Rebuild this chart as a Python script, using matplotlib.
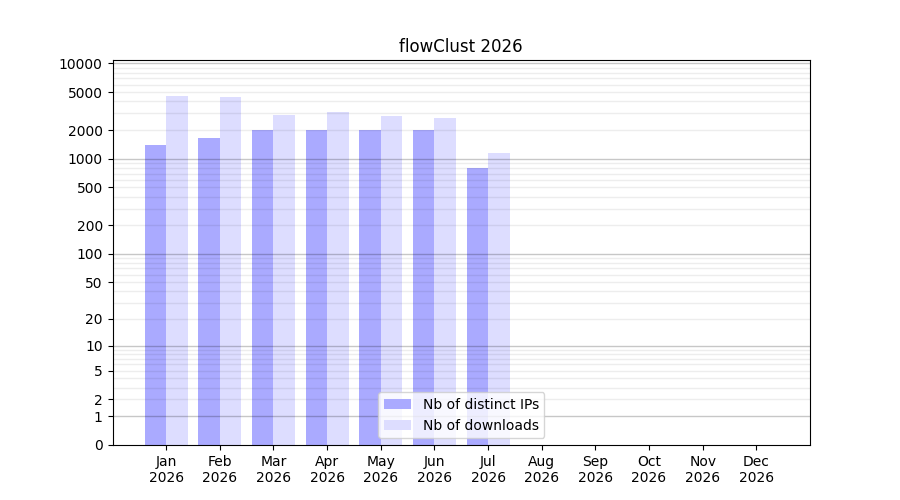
import numpy as np
import matplotlib
matplotlib.use("Agg")
import matplotlib.pyplot as plt

months = ["Jan", "Feb", "Mar", "Apr", "May", "Jun", "Jul", "Aug", "Sep", "Oct", "Nov", "Dec"]
year = "2026"
distinct_ips = [1405, 1663, 1985, 1985, 1985, 1985, 806, 0, 0, 0, 0, 0]
downloads = [4586, 4480, 2899, 3118, 2830, 2698, 1158, 0, 0, 0, 0, 0]
ytick_vals = [0, 1, 2, 5, 10, 20, 50, 100, 200, 500, 1000, 2000, 5000, 10000]


def fwd(v):
    return np.log10(1 + np.maximum(v, 0))


def inv(v):
    return 10 ** v - 1


fig, ax = plt.subplots(figsize=(9, 5), dpi=100)
ax.set_yscale("function", functions=(fwd, inv))

x = np.arange(1, len(months) + 1)
w = 0.4
ax.bar(x - w / 2, distinct_ips, width=w, color="#aaaaff", label="Nb of distinct IPs", zorder=1)
ax.bar(x + w / 2, downloads, width=w, color="#ddddff", label="Nb of downloads", zorder=1)

ax.set_xlim(0, 13)
ax.set_ylim(0, 10850)
ax.set_xticks(x)
ax.set_xticklabels([f"{m}\n{year}" for m in months])
ax.set_yticks(ytick_vals)
ax.set_yticklabels([str(v) for v in ytick_vals])
ax.minorticks_off()

# grid lines
for d in [1, 10, 100, 1000, 10000]:
    ax.axhline(d, color="black", alpha=0.22, lw=1, zorder=2)
for d in [1, 10, 100, 1000]:
    for k in range(2, 10):
        ax.axhline(d * k, color="black", alpha=0.07, lw=1, zorder=2)

ax.set_title("flowClust 2026")
ax.legend(loc="lower center")
fig.savefig("out.png", dpi=100)
